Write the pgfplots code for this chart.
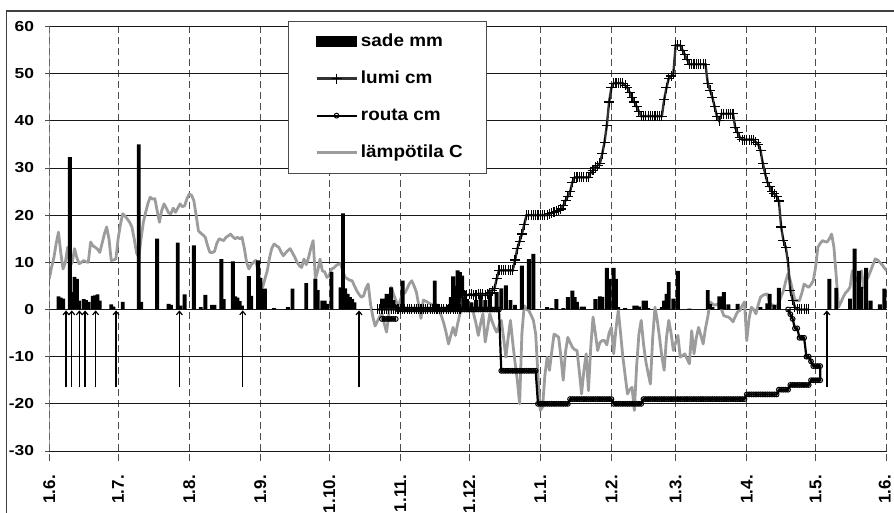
\documentclass[border=0pt]{standalone}
\usepackage{fontspec}
\setmainfont{Liberation Sans}
\newfontfamily\ytfont[FakeStretch=1.2]{Liberation Sans}
\newfontfamily\legfont[FakeStretch=1.08]{Liberation Sans}
\usepackage{pgfplots}
\pgfplotsset{compat=1.18}
\usetikzlibrary{arrows.meta}
\definecolor{tempc}{HTML}{9C9C9C}
\definecolor{snowc}{HTML}{333333}
\pgfplotsset{
 legbar/.style={legend image code/.code={\path (0pt,0pt); \fill[black] (5pt,-5pt) rectangle (45pt,5pt);}},
 legline/.style={legend image code/.code={\path (0pt,0pt); \draw[mark repeat=2,mark phase=2,##1] plot coordinates {(5pt,0pt) (25pt,0pt) (45pt,0pt)};}},
}
\begin{document}
\begin{tikzpicture}
\useasboundingbox (-49.3pt,-62pt) rectangle (844.7pt,451pt);
\clip (-49.3pt,-62pt) rectangle (844.7pt,451pt);
\begin{axis}[
 scale only axis, width=837.4pt, height=424.5pt,
 xmin=0, xmax=365, ymin=-30, ymax=60,
 axis line style={draw=none},
 xtick={0,30,61,92,122,153,183,214,245,273,304,334,365},
 xticklabels={1.6.,1.7.,1.8.,1.9.,1.10.,1.11.,1.12.,1.1.,1.2.,1.3.,1.4.,1.5.,\raisebox{4pt}{1.6.}},
 ytick={-30,-20,-10,0,10,20,30,40,50,60},
 yticklabels={-30,-20,-10,0,10,20,30,40,50,60},
 xtick pos=bottom, ytick pos=left,
 xmajorgrids, ymajorgrids,
 x grid style={black!70, dash pattern=on 6.5pt off 4.5pt, line width=0.9pt},
 y grid style={black!90, line width=0.7pt},
 tick align=outside,
 major tick length=4pt,
 xtick style={draw=black!70, dash pattern=on 6.5pt off 4.5pt, line width=0.9pt, /pgfplots/major tick length=10pt},
 ytick style={draw=black!70, line width=0.9pt},
 xticklabel style={font=\bfseries\fontsize{17}{19}\selectfont, rotate=90, anchor=east, inner sep=0pt},
 xticklabel shift=20pt,
 yticklabel style={font=\ytfont\bfseries\fontsize{14.5}{16}\selectfont, anchor=east, inner sep=0pt},
 yticklabel shift=11pt,
 legend cell align=left,
 legend style={at={(0.2847,1.0137)}, anchor=north west, draw=black!70, line width=0.9pt, fill=white,
   inner xsep=22pt, inner ysep=10pt, row sep=16pt, column sep=1pt,
   font=\legfont\bfseries\fontsize{17.5}{20}\selectfont,
   nodes={inner sep=2pt, text height=13pt, text depth=4pt}},
]
\addlegendimage{legbar}
\addlegendentry{sade mm}
\addlegendimage{legline, snowc, line width=2.4pt, mark=+, mark size=5pt, mark options={black,line width=1.1pt}}
\addlegendentry{lumi cm}
\addlegendimage{legline, black, line width=2.2pt, mark=o, mark size=2.4pt, mark options={fill=white,draw=black,line width=1pt}}
\addlegendentry{routa cm}
\addlegendimage{legline, tempc, line width=2.8pt}
\addlegendentry{lämpötila C}

% temperature
\addplot[forget plot, tempc, line width=2.8pt, line join=round] coordinates {
(0,6.5)(1,9)(2,11)(3,14)(4,16.4)(5,12)(6,8.6)(7,10)(8,13.2)(9,9.3)(10,10)(11,12.9)(12,11)(13,9.7)(14,10)(15,10.4)(16,10.1)(17,10)(18,14.3)(19,13.5)(20,13.2)(21,12.8)(22,12.1)(23,14)(24,16)(25,17.5)(26,15)(27,10.4)(28,10.5)(29,10.7)(30,15)(31,18)(32,20.3)(33,19.8)(34,19.2)(35,18.5)(36,17.5)(37,15)(38,12)(39,11.1)(40,15)(41,18.5)(42,20.6)(43,22.5)(44,23.8)(45,23.4)(46,23.5)(47,21)(48,18.5)(49,21)(50,22.4)(51,21.5)(52,20.5)(53,20.3)(54,21.5)(55,20.6)(56,21.5)(57,22.4)(58,21.8)(59,22)(60,23.5)(61,24.5)(62,24.2)(63,23.1)(64,20)(65,16.7)(66,16.2)(67,15.8)(68,15.3)(69,13.5)(70,12.1)(71,12.1)(72,12.3)(73,14)(74,15)(75,14.8)(76,14.6)(77,15.3)(78,15.6)(79,16)(80,15.4)(81,15)(82,15.3)(83,15)(84,15.3)(85,13)(86,10)(87,8.6)(88,9.5)(89,10)(90,10.4)(91,8)(92,6)(93,4.7)(94,6.5)(95,8.2)(96,11)(97,13)(98,13.9)(99,13.5)(100,13.2)(101,12.2)(102,11.4)(103,12)(104,12.5)(105,12.9)(106,12)(107,11.1)(108,10)(109,9.3)(110,8.9)(111,10.7)(112,9.5)(113,11)(114,13)(115,14.6)(116,6.5)(117,8.2)(118,10.7)(119,8.2)(120,8)(121,6.8)(122,7.2)(123,8.6)(124,8.8)(125,9.3)(126,9.6)(127,9.7)(128,8)(129,6.8)(130,6.5)(131,6.2)(132,6.1)(133,5)(134,4)(135,3.2)(136,2.6)(137,2.9)(138,4.5)(139,5.4)(140,1.2)(141,-1.5)(142,-3.5)(143,-2.5)(144,-1.5)(145,-0.9)(146,-3)(147,-4.8)(148,-1)(149,4.7)(150,3.3)(151,2)(152,0.5)(153,2)(154,3.3)(155,3.5)(156,4.5)(157,5.5)(158,6.1)(159,5)(160,3.7)(161,1)(162,-1.9)(163,2)(164,1.8)(165,1.5)(166,1.2)(167,1)(168,0.9)(169,0.5)(170,-0.2)(171,-1.5)(172,-3)(173,-5)(174,-7.3)(175,-5.5)(176,-3.8)(177,-5.5)(178,-3)(179,-0.9)(180,0.5)(181,3.5)(182,0.5)(183,1)(184,1.2)(185,-1)(186,-3)(187,-5.5)(188,-3)(189,-0.9)(190,-6.9)(191,-4)(192,-0.9)(193,-2.5)(194,-3.8)(195,-4.8)(196,-3.5)(197,-2.3)(198,-6)(199,-10.1)(200,-6)(201,-2.3)(202,-7)(203,-11.2)(204,-15)(205,-20)(206,-5)(207,0.8)(208,0)(209,-0.2)(210,-1.2)(211,-2.3)(212,-5.2)(213,-14)(214,-21.4)(215,-20.7)(216,-14)(217,-10.1)(218,-12.9)(219,-9)(220,-5.2)(221,-5.5)(222,-5.9)(223,-10)(224,-15)(225,-9)(226,-5.9)(227,-7)(228,-8)(229,-8.5)(230,-8.7)(231,-13)(232,-17.9)(233,-13)(234,-9.4)(235,-17.2)(236,-8)(237,-1.6)(238,-5)(239,-8.7)(240,-7)(241,-6.6)(242,-6.6)(243,-7.5)(244,-5)(245,-3.8)(246,-9.4)(247,-4)(248,-0.2)(249,-5)(250,-10.1)(251,-14)(252,-17.9)(253,-17)(254,-16.5)(255,-21.4)(256,-12)(257,-5.2)(258,-2.3)(259,-7.3)(260,-11)(261,-13.5)(262,-15.8)(263,-6)(264,0.5)(265,-2.3)(266,-6)(267,-10)(268,-12.9)(269,-6)(270,-2.3)(271,-5)(272,-8.7)(273,-7)(274,-5.5)(275,-10.1)(276,-9.8)(277,-9.4)(278,-10.5)(279,-11.5)(280,-4.5)(281,-9.4)(282,-6)(283,-3.8)(284,-5.5)(285,-7.3)(286,-4)(287,-1.6)(288,1.6)(289,1.2)(290,0.9)(291,1.1)(292,1.2)(293,0)(294,-1.3)(295,-1.5)(296,-1.6)(297,-2)(298,-2.6)(299,-1.5)(300,-0.5)(301,-0.2)(302,0.8)(303,1.6)(304,-6.6)(305,-2)(306,0.5)(307,0)(308,-0.9)(309,1)(310,2.6)(311,3)(312,3.2)(313,3.3)(314,1.2)(315,1)(316,0.8)(317,0.5)(318,1.5)(319,2.8)(320,4)(321,6)(322,7.6)(323,6.1)(324,4)(325,1.9)(326,1.9)(327,1.9)(328,3.5)(329,5.4)(330,5)(331,4.7)(332,5.3)(333,6.1)(334,9)(335,13.2)(336,14)(337,14.6)(338,14.4)(339,14.3)(340,15)(341,16)(342,13.2)(343,7)(344,0.5)(345,1.5)(346,2.6)(347,3.5)(348,4)(349,4.7)(350,8.2)(351,7)(352,6.1)(353,7.5)(354,8.2)(355,4.7)(356,6)(357,7)(358,8.2)(359,9.5)(360,10.7)(361,10.5)(362,10)(363,9.5)(364,8.8)(365,8.2)
};

% precipitation
\addplot[forget plot, ybar, bar width=1.7, fill=black, draw=none] coordinates {
(4,2.8)(5,2.5)(6,2.3)(9,32.3)(10,3.7)(11,6.9)(12,6.5)(13,1.9)(15,2.2)(16,2.0)(17,1.6)(19,2.9)(20,3.0)(21,3.2)(22,1.9)(27,1.1)(28,0.6)(32,1.6)(39,35)(40,1.6)(47,15)(52,1.2)(53,1.0)(56,14.2)(57,0.8)(59,3.2)(63,13.6)(66,0.5)(68,3.1)(71,1.0)(72,1.0)(75,10.7)(76,2.2)(80,10.2)(81,2.8)(82,2.5)(83,1.8)(84,0.8)(87,7.1)(88,2.9)(91,10.4)(92,6.7)(93,4.4)(94,4.4)(98,0.3)(104,0.5)(106,4.4)(112,5.6)(116,6.5)(117,4.1)(119,1.9)(120,1.9)(121,1.2)(123,8.0)(127,4.7)(128,20.4)(129,4.5)(130,3.3)(131,2.6)(132,2.2)(133,1.5)(145,2.3)(146,2.3)(147,3.3)(148,3.3)(149,4.7)(150,2.0)(151,1.0)(154,6.1)(168,6.1)(169,1.2)(174,1.0)(175,2.6)(176,7.0)(177,5.0)(178,8.3)(179,7.9)(180,7.2)(181,4.0)(182,2.2)(184,1.5)(186,2.0)(188,3.0)(190,2.0)(192,4.2)(195,3.7)(197,4.5)(199,5.1)(201,2.0)(203,1.0)(206,9.3)(209,10.7)(211,11.8)(217,0.5)(219,0.3)(221,2.2)(224,0.3)(226,2.6)(228,4.0)(229,2.6)(230,1.6)(232,0.6)(233,0.6)(238,2.2)(240,2.8)(241,2.7)(243,8.8)(244,6.5)(246,8.8)(247,6.5)(248,0.5)(251,0.3)(255,0.8)(256,0.8)(257,0.6)(259,1.9)(260,1.9)(261,0.3)(267,0.5)(268,1.9)(269,3.3)(270,5.8)(272,2.3)(274,8.2)(279,0.2)(287,4.1)(288,1.2)(289,0.5)(292,2.8)(293,2.8)(294,3.7)(296,1.1)(300,1.2)(310,0.5)(313,1.3)(314,3.3)(316,1.0)(318,4.6)(340,6.5)(343,4.6)(349,2.3)(351,12.9)(353,8.2)(354,4.8)(356,8.8)(358,1.9)(362,1.1)(364,4.4)
};

% snow
\addplot[forget plot, snowc, line width=2.4pt, mark=+, mark size=5pt, mark options={black,line width=1.1pt}] coordinates {
(143,0)(144,0)(145,0)(146,0)(147,0)(148,0)(149,0)(150,0)(151,0)(152,0)(153,0)(154,0)(155,0)(156,0)(157,0)(158,0)(159,0)(160,0)(161,0)(162,0)(163,0)(164,0)(165,0)(166,0)(167,0)(168,0)(169,0)(170,0)(171,0)(172,0)(173,0)(174,0)(175,0)(176,0)(177,0)(178,0)(179,0)(180,2.5)(181,3)(182,3)(183,3.2)(184,3.2)(185,3)(186,3)(187,3.3)(188,3.3)(189,3.3)(190,3)(191,3.3)(192,3.5)(193,4)(194,4.4)(195,6.5)(196,8.3)(197,8.3)(198,8.3)(199,8.3)(200,8.3)(201,8.3)(202,8.3)(203,10.5)(204,12.9)(205,14.5)(206,16)(207,18)(208,20)(209,20)(210,20)(211,20)(212,20)(213,20)(214,20)(215,20)(216,20)(217,20)(218,20.3)(219,20.5)(220,20.6)(221,20.8)(222,21)(223,21.3)(224,22)(225,23.1)(226,24)(227,25)(228,27)(229,28)(230,28)(231,28)(232,28)(233,28)(234,28)(235,28)(236,29)(237,29.5)(238,30.2)(239,30.5)(240,31)(241,33)(242,35.5)(243,39)(244,44)(245,47)(246,48)(247,48)(248,48)(249,48)(250,48)(251,47.5)(252,47)(253,46)(254,45)(255,44)(256,43)(257,42)(258,41)(259,41)(260,41)(261,41)(262,41)(263,41)(264,41)(265,41)(266,41)(267,41)(268,44.5)(269,47)(270,49)(271,49.5)(272,50)(273,56)(274,56)(275,56)(276,55)(277,54)(278,53)(279,52)(280,52)(281,52)(282,52)(283,52)(284,52)(285,52)(286,52)(287,48)(288,46.5)(289,45)(290,43)(291,41)(292,40)(293,41.5)(294,41.5)(295,41.5)(296,41.5)(297,41.5)(298,41.5)(299,38.5)(300,37.5)(301,36.5)(302,36)(303,36)(304,36)(305,36)(306,36)(307,36)(308,35.5)(309,35)(310,33.7)(311,31)(312,28.8)(313,27)(314,26)(315,25)(316,24.5)(317,24)(318,23)(319,17.5)(320,14.6)(321,13.2)(322,10)(323,4)(324,2)(325,0.5)(326,0)(327,0)(328,0)(329,0)(330,0)(331,0)
};

% frost
\addplot[forget plot, black, line width=2.2pt, unbounded coords=jump, mark=o, mark size=2.4pt, mark options={fill=white,draw=black,line width=1pt}] coordinates {
(145,-2)(146,-2)(147,-2)(148,-2)(149,-2)(150,-2)(151,-2)(151.5,nan)
(152,0)(153,0)(154,0)(155,0)(156,0)(157,0)(158,0)(159,0)(160,0)(161,0)(162,0)(163,0)(164,0)(165,0)(166,0)(167,0)(168,0)(169,0)(170,0)(171,0)(172,0)(173,0)(174,0)(175,0)(176,0)(177,0)(178,0)(179,0)(180,0)(181,0)(182,0)(183,0)(184,0)(185,0)(186,0)(187,0)(188,0)(189,0)(190,0)(191,0)(192,0)(193,0)(194,0)(195,0)(196,0)
(197,-13)(198,-13)(199,-13)(200,-13)(201,-13)(202,-13)(203,-13)(204,-13)(205,-13)(206,-13)(207,-13)(208,-13)(209,-13)(210,-13)(211,-13)(212,-13)
(213,-20)(214,-20)(215,-20)(216,-20)(217,-20)(218,-20)(219,-20)(220,-20)(221,-20)(222,-20)(223,-20)(224,-20)(225,-20)(226,-20)
(227,-19)(228,-19)(229,-19)(230,-19)(231,-19)(232,-19)(233,-19)(234,-19)(235,-19)(236,-19)(237,-19)(238,-19)(239,-19)(240,-19)(241,-19)(242,-19)(243,-19)(244,-19)(245,-19)
(246,-20)(247,-20)(248,-20)(249,-20)(250,-20)(251,-20)(252,-20)(253,-20)(254,-20)(255,-20)(256,-20)(257,-20)(258,-20)
(259,-19)(260,-19)(261,-19)(262,-19)(263,-19)(264,-19)(265,-19)(266,-19)(267,-19)(268,-19)(269,-19)(270,-19)(271,-19)(272,-19)(273,-19)(274,-19)(275,-19)(276,-19)(277,-19)(278,-19)(279,-19)(280,-19)(281,-19)(282,-19)(283,-19)(284,-19)(285,-19)(286,-19)(287,-19)(288,-19)(289,-19)(290,-19)(291,-19)(292,-19)(293,-19)(294,-19)(295,-19)(296,-19)(297,-19)(298,-19)(299,-19)(300,-19)(301,-19)(302,-19)(303,-19)
(304,-18)(305,-18)(306,-18)(307,-18)(308,-18)(309,-18)(310,-18)(311,-18)(312,-18)(313,-18)(314,-18)(315,-18)(316,-18)(317,-18)
(318,-17)(319,-17)(320,-17)(321,-17)(322,-17)
(323,-16)(324,-16)(325,-16)(326,-16)(327,-16)(328,-16)(329,-16)(330,-16)(331,-16)
(332,-15)(333,-15)(334,-15)(335,-15)(336,-15)
(336,-12)(335,-12)(334,-12)(333,-12)(332,-11)(331,-10)(330,-10)(329,-6)(328,-6)(327,-6)(326,-4)(325,-4)(324,-2)(323,-1)(322,0)
};

% arrows
\addplot[forget plot, black, quiver={u=0, v=16.3, every arrow/.append style={line width=1.4pt, -{Straight Barb[length=3.5pt,width=6pt,line width=1.2pt]}}}] coordinates {
(7.3,-16.5)(9.8,-16.5)(13.1,-16.5)(15.6,-16.5)(20.2,-16.5)(29.1,-16.5)(56.7,-16.5)(84.3,-16.5)(135,-16.5)(338.9,-16.5)
};

\draw[black!55, line width=1.4pt] (rel axis cs:0,0) -- (rel axis cs:0,1);
\end{axis}
\draw[black!75, line width=1.4pt] (-42.6pt,-100pt) rectangle (900pt,440pt);
\end{tikzpicture}
\end{document}
